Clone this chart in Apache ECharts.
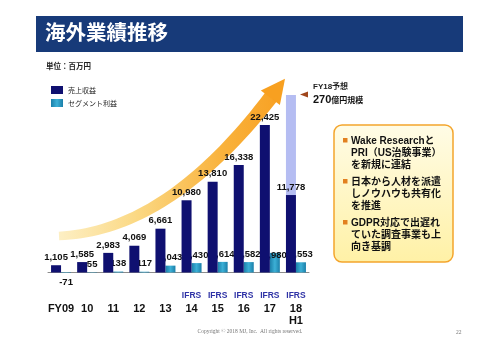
<!DOCTYPE html>
<html>
<head>
<meta charset="utf-8">
<script src="https://cdn.jsdelivr.net/npm/echarts@6/dist/echarts.min.js"></script>
<style>
  html, body { margin: 0; padding: 0; background: #fff; }
  #main { width: 500px; height: 354px; }
</style>
</head>
<body>
<div id="main"></div>
<script>
// 海外業績推移 (単位: 百万円)
var categories = ['FY09', '10', '11', '12', '13', '14', '15', '16', '17', '18'];
var ifrsFlags = [false, false, false, false, false, true, true, true, true, true];
var subLabels = ['', '', '', '', '', '', '', '', '', 'H1'];
var revenue = [1105, 1585, 2983, 4069, 6661, 10980, 13810, 16338, 22425, 11778];
var segment = [-71, 55, 138, 117, 1043, 1430, 1614, 1582, 2980, 1553];
var forecast = [null, null, null, null, null, null, null, null, null, 27000];   // FY18予想 270億円

var NAVY = '#0f1070';
var LABEL_FONT = 'Liberation Sans, Arial, sans-serif';
var JP_FONT = '"Noto Sans CJK JP", sans-serif';
var MIX_FONT = '"Liberation Sans", "Noto Sans CJK JP", sans-serif';

function fmt(v) { return v.toLocaleString('en-US'); }

// 予想の残り部分 (積み上げ用)
var forecastRest = forecast.map(function (f, i) {
    return f == null ? null : f - revenue[i];
});

// 曲線の矢印 (背景の飾り)
function arrowShapes() {
    var p0 = [59, 236], c = [168, 231], p2 = [271, 97];
    var upper = [], lower = [];
    var n = 40;
    for (var k = 0; k <= n; k++) {
        var t = k / n;
        var x = (1 - t) * (1 - t) * p0[0] + 2 * (1 - t) * t * c[0] + t * t * p2[0];
        var y = (1 - t) * (1 - t) * p0[1] + 2 * (1 - t) * t * c[1] + t * t * p2[1];
        var dx = 2 * (1 - t) * (c[0] - p0[0]) + 2 * t * (p2[0] - c[0]);
        var dy = 2 * (1 - t) * (c[1] - p0[1]) + 2 * t * (p2[1] - c[1]);
        var len = Math.sqrt(dx * dx + dy * dy);
        var nx = -dy / len, ny = dx / len;
        var w = (8.5 + 6 * t) / 2;
        upper.push([x - nx * w, y - ny * w]);
        lower.push([x + nx * w, y + ny * w]);
    }
    var body = upper.concat(lower.reverse());
    var ex = p2[0] - c[0], ey = p2[1] - c[1];
    var el = Math.sqrt(ex * ex + ey * ey);
    ex /= el; ey /= el;
    var hx = -ey, hy = ex;
    var head = [
        [p2[0] + hx * 12 - ex * 1, p2[1] + hy * 12 - ey * 1],
        [p2[0] + ex * 23, p2[1] + ey * 23],
        [p2[0] - hx * 12 - ex * 1, p2[1] - hy * 12 - ey * 1]
    ];
    return { body: body, head: head };
}
var arrow = arrowShapes();

var chart = echarts.init(document.getElementById('main'));

var boxLines = [
    ['Wake Researchと', 'PRI（US治験事業）', 'を新規に連結'],
    ['日本から人材を派遣', 'しノウハウも共有化', 'を推進'],
    ['GDPR対応で出遅れ', 'ていた調査事業も上', '向き基調']
];
var boxElements = [];
boxLines.forEach(function (lines, i) {
    var top = 136 + i * 41;
    boxElements.push({
        type: 'rect', z: 10,
        shape: { x: 343, y: top + 2, width: 4.5, height: 4.5 },
        style: { fill: '#e2801f' }
    });
    boxElements.push({
        type: 'text', z: 10, left: 351, top: top - 1,
        style: {
            text: lines.join('\n'), fill: '#111',
            font: 'bold 10px ' + MIX_FONT, lineHeight: 12
        }
    });
});

chart.setOption({
    animation: false,
    grid: { left: 48, right: 191, top: 75.18, bottom: 68.35 },
    legend: {
        data: ['売上収益', 'セグメント利益'],
        orient: 'vertical',
        left: 46, top: 81,
        icon: 'rect',
        itemWidth: 12, itemHeight: 8, itemGap: 5,
        textStyle: { fontSize: 7, color: '#222', fontFamily: JP_FONT }
    },
    xAxis: {
        type: 'category',
        data: categories,
        axisLine: { lineStyle: { color: '#8c8c8c', width: 1 } },
        axisTick: { show: false },
        axisLabel: {
            interval: 0,
            margin: 4,
            formatter: function (v, i) {
                var s = (ifrsFlags[i] ? '{i|IFRS}' : '{i| }') + '\n{c|' + v + '}';
                if (subLabels[i]) s += '\n{c|' + subLabels[i] + '}';
                return s;
            },
            rich: {
                i: { fontSize: 8.5, fontWeight: 'bold', color: '#2f33a6', fontFamily: LABEL_FONT, lineHeight: 13 },
                c: { fontSize: 11, fontWeight: 'bold', color: '#111', fontFamily: LABEL_FONT, lineHeight: 12.5 }
            }
        }
    },
    yAxis: {
        type: 'value', min: -2000, max: 30000,
        show: false, splitLine: { show: false }
    },
    series: [
        {
            name: '売上収益', type: 'bar', stack: 'rev',
            data: revenue, barWidth: 10, barGap: 0,
            itemStyle: { color: NAVY },
            label: {
                show: true, position: 'top', distance: 3,
                formatter: function (p) { return fmt(p.value); },
                fontSize: 9.5, fontWeight: 'bold', color: '#111', fontFamily: LABEL_FONT
            },
            z: 3
        },
        {
            name: '予想', type: 'bar', stack: 'rev',
            data: forecastRest, barWidth: 10,
            itemStyle: { color: '#b5bdf2' },
            z: 3
        },
        {
            name: 'セグメント利益', type: 'bar',
            data: segment.map(function (v, i) {
                if (v < 0) {
                    return { value: v, label: { position: 'bottom', distance: 4 } };
                }
                if (v > 2500) {
                    return { value: v, label: { offset: [0, 10] } };
                }
                return v;
            }),
            barWidth: 10,
            itemStyle: {
                color: new echarts.graphic.LinearGradient(0, 0, 1, 0, [
                    { offset: 0, color: '#1b7fa9' },
                    { offset: 0.5, color: '#3cb0d6' },
                    { offset: 1, color: '#1b7fa9' }
                ])
            },
            label: {
                show: true, position: 'top', distance: 3,
                formatter: function (p) { return fmt(p.value); },
                fontSize: 9.5, fontWeight: 'bold', color: '#111', fontFamily: LABEL_FONT
            },
            z: 2
        }
    ],
    graphic: {
        elements: [
            // タイトル帯
            { type: 'rect', shape: { x: 36, y: 16, width: 427, height: 36 }, style: { fill: '#173a79' } },
            {
                type: 'text', left: 45, top: 22,
                style: { text: '海外業績推移', fill: '#fff', font: 'bold 20.5px ' + JP_FONT }
            },
            {
                type: 'text', left: 46, top: 62,
                style: { text: '単位：百万円', fill: '#222', font: 'bold 7.5px ' + JP_FONT }
            },
            // 矢印
            {
                type: 'polygon', z: -1,
                shape: { points: arrow.body },
                style: {
                    fill: new echarts.graphic.LinearGradient(0, 0, 1, 0, [
                        { offset: 0, color: '#fdefc4' },
                        { offset: 0.35, color: '#fbd985' },
                        { offset: 0.75, color: '#f9b23c' },
                        { offset: 1, color: '#f8a225' }
                    ])
                }
            },
            {
                type: 'polygon', z: -1,
                shape: { points: arrow.head },
                style: { fill: '#f8a020' }
            },
            // FY18予想
            {
                type: 'polygon',
                shape: { points: [[300, 94.5], [308, 91.5], [308, 97.5]] },
                style: { fill: '#a0461c' }
            },
            {
                type: 'text', left: 313, top: 83,
                style: { text: 'FY18予想', fill: '#222', font: 'bold 8px ' + MIX_FONT }
            },
            {
                type: 'text', left: 313, top: 94,
                style: {
                    text: '{a|270}{b|億円規模}',
                    rich: {
                        a: { font: 'bold 11px ' + LABEL_FONT, fill: '#111' },
                        b: { font: 'bold 8px ' + JP_FONT, fill: '#111' }
                    }
                }
            },
            // 説明ボックス
            {
                type: 'rect', z: 9,
                shape: { x: 334, y: 125, width: 119, height: 137, r: 8 },
                style: {
                    fill: new echarts.graphic.LinearGradient(0, 0, 0, 1, [
                        { offset: 0, color: '#fffce6' },
                        { offset: 1, color: '#fff1a6' }
                    ]),
                    stroke: '#f4a52c', lineWidth: 1.5
                }
            }
        ].concat(boxElements).concat([
            {
                type: 'text', left: 'center', top: 329,
                style: { text: 'Copyright © 2018 MJ, Inc.  All rights reserved.', fill: '#777', font: '5.5px "Liberation Serif", serif' }
            },
            {
                type: 'text', left: 456, top: 330,
                style: { text: '22', fill: '#777', font: '5.5px "Liberation Serif", serif' }
            }
        ])
    }
});
</script>
</body>
</html>
